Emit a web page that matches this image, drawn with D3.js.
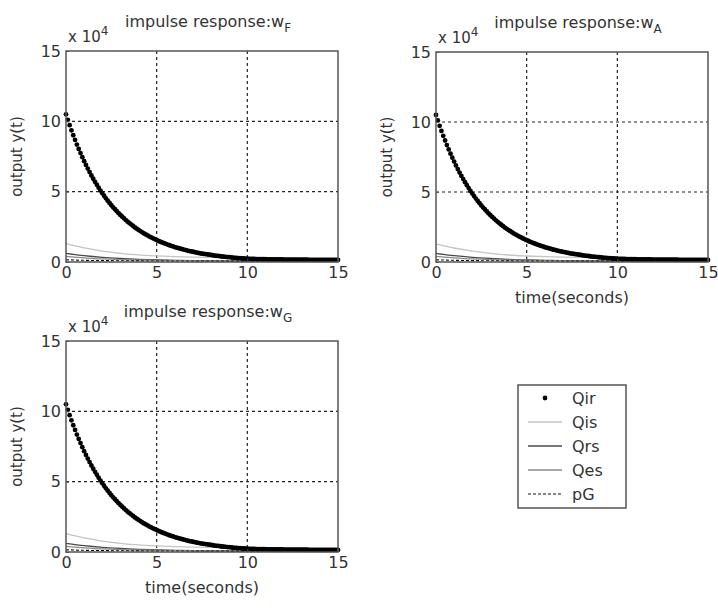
<!DOCTYPE html>
<html>
<head>
<meta charset="utf-8">
<script src="https://cdn.jsdelivr.net/npm/d3@7"></script>
<style>
  body { margin: 0; background: #fff; }
  svg { display: block; font-family: "DejaVu Sans", sans-serif; }
</style>
</head>
<body>
<svg id="chart" width="718" height="611"></svg>
<script>
// panel subscripts (impulse response : w_F, w_A, w_G)
var panelNames = ["F", "A", "G"];
var xTicks = [0, 5, 10, 15];
var yTicks = [0, 5, 10, 15];
var legendLabels = ["Qir", "Qis", "Qrs", "Qes", "pG"];

// Qir, sampled every 0.1 s, units of 1e4
var qirTime = d3.range(0, 151).map(function (i) { return i / 10; });
var qirValues = [
  10.50, 10.11, 9.73, 9.36, 9.01, 8.68, 8.35, 8.04, 7.74, 7.45,
  7.17, 6.90, 6.64, 6.39, 6.15, 5.92, 5.70, 5.49, 5.28, 5.08,
  4.89, 4.71, 4.53, 4.36, 4.20, 4.04, 3.89, 3.75, 3.61, 3.47,
  3.34, 3.22, 3.10, 2.98, 2.87, 2.76, 2.66, 2.56, 2.46, 2.37,
  2.28, 2.20, 2.11, 2.03, 1.96, 1.89, 1.81, 1.75, 1.68, 1.62,
  1.56, 1.50, 1.44, 1.39, 1.34, 1.29, 1.24, 1.19, 1.15, 1.11,
  1.06, 1.02, 0.99, 0.95, 0.91, 0.88, 0.85, 0.81, 0.78, 0.75,
  0.73, 0.70, 0.67, 0.65, 0.62, 0.60, 0.58, 0.56, 0.54, 0.52,
  0.50, 0.48, 0.46, 0.44, 0.43, 0.41, 0.39, 0.38, 0.37, 0.35,
  0.34, 0.33, 0.31, 0.30, 0.29, 0.28, 0.27, 0.26, 0.25, 0.24,
  0.23, 0.226, 0.222, 0.218, 0.214, 0.210, 0.207, 0.204, 0.201, 0.198,
  0.195, 0.192, 0.190, 0.188, 0.186, 0.184, 0.182, 0.180, 0.178, 0.176,
  0.174, 0.172, 0.170, 0.169, 0.168, 0.167, 0.166, 0.165, 0.164, 0.163,
  0.162, 0.161, 0.160, 0.159, 0.158, 0.157, 0.156, 0.155, 0.154, 0.153,
  0.152, 0.151, 0.150, 0.150, 0.149, 0.149, 0.148, 0.148, 0.147, 0.147,
  0.146
];

// the line series, sampled every second
var lineTime = [0, 1, 2, 3, 4, 5, 6, 7, 8, 9, 10, 11, 12];
var qisValues = [1.30, 1.00, 0.78, 0.62, 0.50, 0.43, 0.38, 0.35, 0.33, 0.32, 0.31, 0.30, 0.30];
var qrsValues = [0.62, 0.45, 0.33, 0.25, 0.19, 0.15, 0.12, 0.10, 0.09, 0.08, 0.08, 0.07, 0.07];
var qesValues = [0.40, 0.30, 0.22, 0.17, 0.14, 0.12, 0.10, 0.09, 0.08, 0.08, 0.07, 0.07, 0.07];
var pgTime = [0, 1, 2, 3, 4, 5, 6, 8, 10, 12, 15];
var pgValues = [0.16, 0.12, 0.10, 0.09, 0.08, 0.07, 0.07, 0.06, 0.06, 0.06, 0.06];

var lineStyles = [
  { values: qisValues, time: lineTime, color: "#c4c4c4", width: 1.3, dash: null },
  { values: qrsValues, time: lineTime, color: "#4a4a4a", width: 1.3, dash: null },
  { values: qesValues, time: lineTime, color: "#8a8a8a", width: 1.3, dash: null },
  { values: pgValues, time: pgTime, color: "#111", width: 1.1, dash: "3,2" }
];

var boxes = [
  { left: 66, top: 51, right: 338, bottom: 262, xlabel: false },
  { left: 436, top: 52, right: 708, bottom: 262, xlabel: true },
  { left: 66, top: 341, right: 338, bottom: 552, xlabel: true }
];

var svg = d3.select("#chart");

boxes.forEach(function (b, k) {
  var x = d3.scaleLinear().domain([0, 15]).range([b.left, b.right]);
  var y = d3.scaleLinear().domain([0, 15]).range([b.bottom, b.top]);
  var g = svg.append("g");

  // dotted grid
  g.selectAll(".gx")
    .data(xTicks.slice(1, -1))
    .enter()
    .append("line")
    .attr("x1", function (d) { return x(d); })
    .attr("x2", function (d) { return x(d); })
    .attr("y1", b.top)
    .attr("y2", b.bottom)
    .attr("stroke", "#222")
    .attr("stroke-width", 1.2)
    .attr("stroke-dasharray", "3,3");
  g.selectAll(".gy")
    .data(yTicks.slice(1, -1))
    .enter()
    .append("line")
    .attr("x1", b.left)
    .attr("x2", b.right)
    .attr("y1", function (d) { return y(d); })
    .attr("y2", function (d) { return y(d); })
    .attr("stroke", "#222")
    .attr("stroke-width", 1.2)
    .attr("stroke-dasharray", "3,3");

  // line series
  lineStyles.forEach(function (s) {
    var line = d3
      .line()
      .x(function (d, i) { return x(s.time[i]); })
      .y(function (d) { return y(d); })
      .curve(d3.curveMonotoneX);
    g.append("path")
      .attr("d", line(s.values))
      .attr("fill", "none")
      .attr("stroke", s.color)
      .attr("stroke-width", s.width)
      .attr("stroke-dasharray", s.dash);
  });

  // Qir dots
  g.selectAll(".dot")
    .data(qirValues)
    .enter()
    .append("circle")
    .attr("cx", function (d, i) { return x(qirTime[i]); })
    .attr("cy", function (d) { return y(d); })
    .attr("r", 2.4)
    .attr("fill", "#000");

  // axes, ticks inward
  var xAxis = d3.axisBottom(x).tickValues(xTicks).tickSize(-3).tickPadding(5);
  var yAxis = d3.axisLeft(y).tickValues(yTicks).tickSize(-3).tickPadding(5);
  g.append("g").attr("transform", "translate(0," + b.bottom + ")").call(xAxis);
  g.append("g").attr("transform", "translate(" + b.left + ",0)").call(yAxis);
  g.selectAll(".domain").remove();
  g.selectAll(".tick line").attr("stroke", "#555");
  g.selectAll(".tick text")
    .attr("fill", "#333")
    .style("font-size", "16px")
    .style("font-family", "DejaVu Sans, sans-serif");

  // box
  g.append("rect")
    .attr("x", b.left)
    .attr("y", b.top)
    .attr("width", b.right - b.left)
    .attr("height", b.bottom - b.top)
    .attr("fill", "none")
    .attr("stroke", "#555")
    .attr("stroke-width", 1.5);

  // exponent label
  var ex = g.append("text")
    .attr("x", b.left + 2)
    .attr("y", b.top - 9)
    .attr("fill", "#333")
    .style("font-size", "15px")
    .text("x 10");
  ex.append("tspan").attr("dy", -7).style("font-size", "12px").text("4");

  // title
  var t = g.append("text")
    .attr("x", (b.left + b.right) / 2 + 6)
    .attr("y", b.top - 24)
    .attr("text-anchor", "middle")
    .attr("fill", "#333")
    .style("font-size", "16px")
    .text("impulse response:w");
  t.append("tspan").attr("dy", 5).style("font-size", "12px").text(panelNames[k]);

  // y label
  g.append("text")
    .attr("transform", "translate(" + (b.left - 44) + "," + (b.top + b.bottom) / 2 + ") rotate(-90)")
    .attr("text-anchor", "middle")
    .attr("fill", "#333")
    .style("font-size", "15px")
    .text("output y(t)");

  if (b.xlabel) {
    g.append("text")
      .attr("x", (b.left + b.right) / 2)
      .attr("y", b.bottom + 41)
      .attr("text-anchor", "middle")
      .attr("fill", "#333")
      .style("font-size", "16px")
      .text("time(seconds)");
  }
});

// legend
var leg = svg.append("g");
var legY = d3.scalePoint().domain(legendLabels).range([398, 494]);
leg.append("rect")
  .attr("x", 518)
  .attr("y", 385)
  .attr("width", 108)
  .attr("height", 123)
  .attr("fill", "#fff")
  .attr("stroke", "#555")
  .attr("stroke-width", 1.5);
leg.append("circle")
  .attr("cx", 545)
  .attr("cy", legY("Qir"))
  .attr("r", 2.4)
  .attr("fill", "#000");
lineStyles.forEach(function (s, i) {
  leg.append("line")
    .attr("x1", 528)
    .attr("x2", 562)
    .attr("y1", legY(legendLabels[i + 1]))
    .attr("y2", legY(legendLabels[i + 1]))
    .attr("stroke", s.color)
    .attr("stroke-width", s.width)
    .attr("stroke-dasharray", s.dash);
});
leg.selectAll(".lt")
  .data(legendLabels)
  .enter()
  .append("text")
  .attr("x", 572)
  .attr("y", function (d) { return legY(d) + 6; })
  .attr("fill", "#333")
  .style("font-size", "16px")
  .text(function (d) { return d; });
</script>
</body>
</html>
